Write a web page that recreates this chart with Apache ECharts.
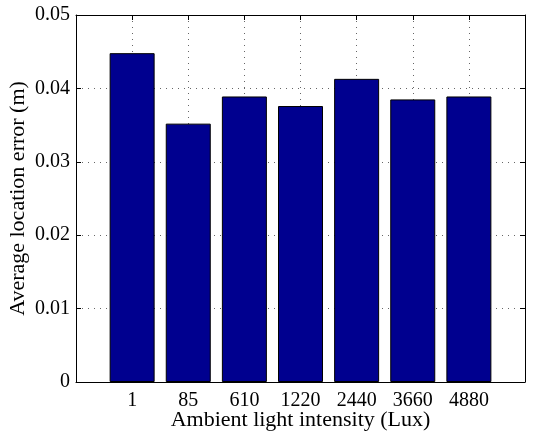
<!DOCTYPE html>
<html>
<head>
<meta charset="utf-8">
<script src="https://cdn.jsdelivr.net/npm/echarts@6/dist/echarts.min.js"></script>
<style>
  html, body { margin: 0; padding: 0; background: #fff; }
  #main { width: 544px; height: 432px; }
</style>
</head>
<body>
<div id="main"></div>
<script>
// light levels (Lux) and the average location error for each one
var categories = ["1", "85", "610", "1220", "2440", "3660", "4880"];
var errors = [0.0448, 0.0352, 0.0389, 0.0376, 0.0413, 0.0385, 0.0389];
var yTicks = [0, 0.01, 0.02, 0.03, 0.04, 0.05];

var font = "Liberation Serif";
var mychart = echarts.init(document.getElementById("main"));

// bars sit at x = 1..7 on a 0..8 axis, like matlab bar()
var barData = errors.map(function (v, i) {
  return [i + 1, v];
});

var gridLine = {
  show: true,
  lineStyle: { color: "#666", width: 1, type: [1, 5] },
};
var tick = { show: true, inside: true, length: 5, lineStyle: { color: "#000" } };
var line = { show: true, onZero: false, lineStyle: { color: "#000", width: 1 } };

var option = {
  animation: false,
  backgroundColor: "#fff",
  grid: {
    left: 76,
    right: 19,
    top: 15,
    bottom: 50,
    outerBoundsMode: "none",
  },
  xAxis: [
    {
      type: "value",
      min: 0,
      max: 8,
      interval: 1,
      name: "Ambient light intensity (Lux)",
      nameLocation: "middle",
      nameGap: 27,
      nameMoveOverlap: false,
      nameTextStyle: { fontFamily: font, fontSize: 22, color: "#000" },
      axisLine: line,
      axisTick: tick,
      axisLabel: {
        fontFamily: font,
        fontSize: 20,
        color: "#000",
        margin: 9,
        formatter: function (v) {
          return categories[v - 1] || "";
        },
      },
      splitLine: gridLine,
    },
    {
      // top border
      type: "value",
      position: "top",
      min: 0,
      max: 8,
      interval: 1,
      axisLine: line,
      axisTick: tick,
      axisLabel: { show: false },
      splitLine: { show: false },
    },
  ],
  yAxis: [
    {
      type: "value",
      min: yTicks[0],
      max: yTicks[yTicks.length - 1],
      interval: 0.01,
      name: "Average location error (m)",
      nameLocation: "middle",
      nameGap: 47,
      nameMoveOverlap: false,
      nameTextStyle: { fontFamily: font, fontSize: 22, color: "#000" },
      axisLine: line,
      axisTick: tick,
      axisLabel: {
        fontFamily: font,
        fontSize: 20,
        color: "#000",
        margin: 6,
        formatter: function (v) {
          return v === 0 ? "0" : v.toFixed(2);
        },
      },
      splitLine: gridLine,
    },
    {
      // right border
      type: "value",
      position: "right",
      min: yTicks[0],
      max: yTicks[yTicks.length - 1],
      interval: 0.01,
      axisLine: line,
      axisTick: tick,
      axisLabel: { show: false },
      splitLine: { show: false },
    },
  ],
  series: [
    {
      type: "bar",
      xAxisIndex: 0,
      yAxisIndex: 0,
      barWidth: 45,
      data: barData,
      itemStyle: {
        color: "#00008F",
        borderColor: "#000",
        borderWidth: 1,
      },
    },
  ],
};

mychart.setOption(option);
</script>
</body>
</html>
